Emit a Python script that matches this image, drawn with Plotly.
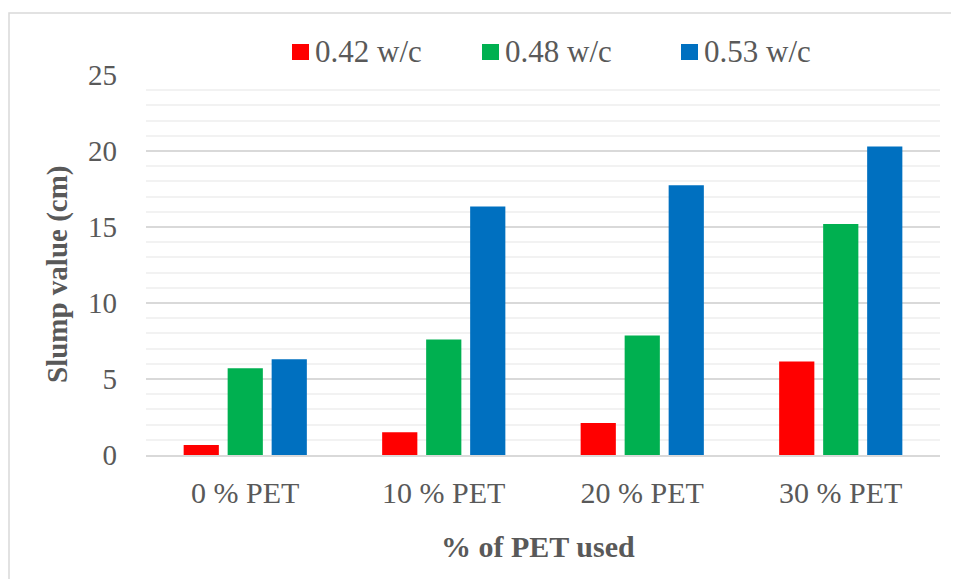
import plotly.graph_objects as go

categories = ["0 % PET", "10 % PET", "20 % PET", "30 % PET"]
series_names = ["0.42 w/c", "0.48 w/c", "0.53 w/c"]
w042 = [0.65, 1.5, 2.1, 6.15]
w048 = [5.7, 7.6, 7.87, 15.2]
w053 = [6.3, 16.35, 17.75, 20.3]
colors = ["#FF0000", "#00B050", "#0070C0"]

OFF = 8  # page body margin
W, H = 959 - OFF, 579 - OFF
L, T = 146 - OFF, 75 - OFF
R = W - (940 - OFF)
B = H - (455 - OFF)
pw, ph = W - L - R, H - T - B

def px_x(x):
    return (x - OFF - L) / pw

def px_y(y):
    return (T + ph - (y - OFF)) / ph

fig = go.Figure()
for name, vals, c in zip(series_names, [w042, w048, w053], colors):
    fig.add_trace(go.Bar(x=categories, y=vals, name=name, marker_color=c,
                         marker_line_width=0, showlegend=False))

font = "Liberation Serif"
grey = "#595959"

shapes = [dict(type="rect", xref="paper", yref="paper",
               x0=px_x(9), x1=px_x(975), y0=px_y(600), y1=px_y(13),
               line=dict(color="#D9D9D9", width=1.5), layer="below")]
annotations = []
legend_x = [292, 482, 681]
for name, c, lx in zip(series_names, colors, legend_x):
    shapes.append(dict(type="rect", xref="paper", yref="paper",
                       x0=px_x(lx), x1=px_x(lx + 17), y0=px_y(60), y1=px_y(44),
                       fillcolor=c, line=dict(width=0)))
    annotations.append(dict(text=name, xref="paper", yref="paper",
                            x=px_x(lx + 21), y=px_y(52), xanchor="left", yanchor="middle",
                            showarrow=False, font=dict(size=31, color=grey, family=font)))

annotations.append(dict(text="<b>% of PET used</b>", xref="paper", yref="paper",
                        x=px_x(538), y=px_y(546), xanchor="center", yanchor="middle",
                        showarrow=False, font=dict(size=30, color=grey, family=font)))
annotations.append(dict(text="<b>Slump value (cm)</b>", xref="paper", yref="paper",
                        x=px_x(57), y=px_y(274), xanchor="center", yanchor="middle",
                        textangle=-90, showarrow=False,
                        font=dict(size=29, color=grey, family=font)))

fig.update_layout(
    width=W, height=H,
    margin=dict(l=L, r=R, t=T, b=B, autoexpand=False),
    paper_bgcolor="white", plot_bgcolor="white",
    barmode="group", bargap=0.335, bargroupgap=0.2,
    font=dict(family=font, color=grey, size=28),
    showlegend=False,
    xaxis=dict(showgrid=False, showline=True, linecolor="#D9D9D9", linewidth=1.5,
               tickfont=dict(size=30), ticks="", ticklabelstandoff=10, automargin=False),
    yaxis=dict(range=[0, 25], dtick=5, showgrid=True, gridcolor="#D9D9D9", gridwidth=1.5,
               minor=dict(dtick=1, showgrid=True, gridcolor="#F2F2F2", gridwidth=1.5),
               zeroline=False, tickfont=dict(size=29), ticklabelstandoff=28,
               automargin=False),
    shapes=shapes,
    annotations=annotations,
)
fig.write_html("out.html")
